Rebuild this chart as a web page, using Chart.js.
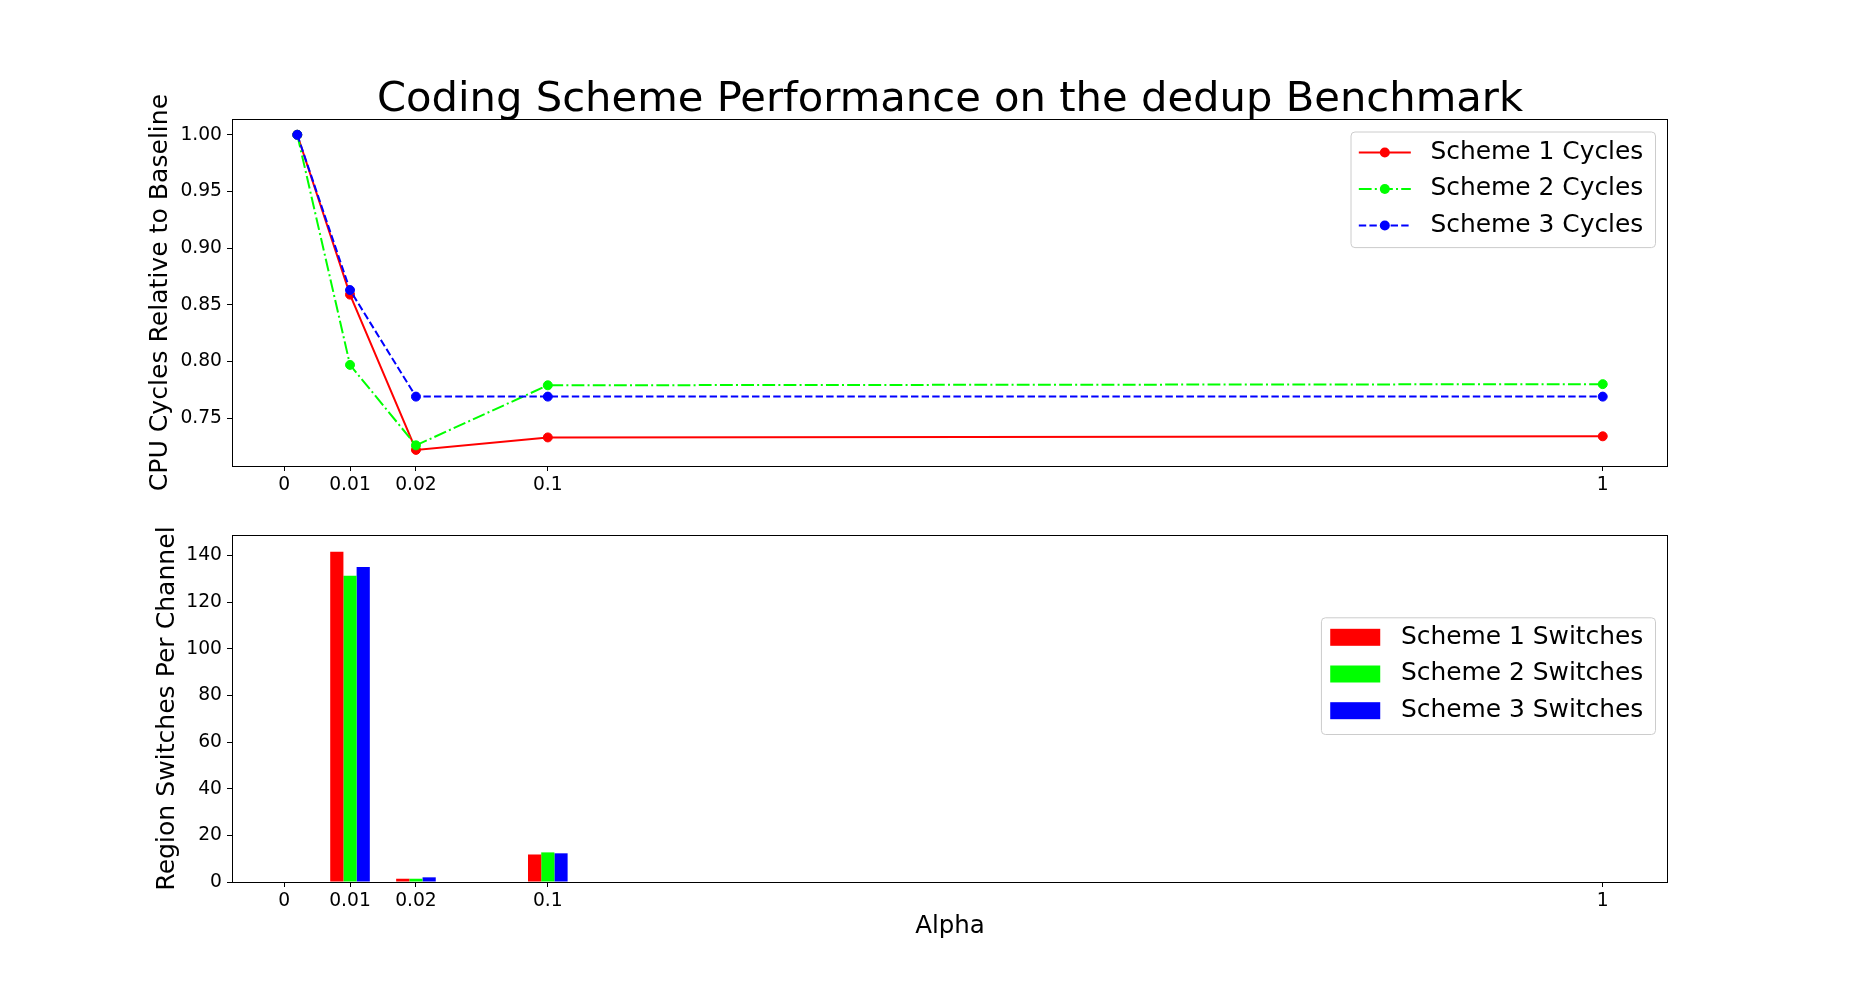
<!DOCTYPE html>
<html lang="en">
<head>
    <meta charset="UTF-8">
    <title>Coding Scheme Performance on the dedup Benchmark</title>
    <script src="https://cdn.jsdelivr.net/npm/chart.js"></script>
    <style>
        body { margin: 0; background: #fff; }
        .figure { position: relative; width: 1853px; height: 991px; }
        .figure canvas { position: absolute; left: 0; }
        #cyclesChart { top: 0; }
        #switchesChart { top: 500px; }
    </style>
</head>
<body>
<div class="figure">
    <canvas id="cyclesChart" width="1853" height="500"></canvas>
    <canvas id="switchesChart" width="1853" height="491"></canvas>
</div>
<script>
// alpha values are spread on an ordinal-ish axis: tick positions vs. where the points sit
const alphaLabels = ['0', '0.01', '0.02', '0.1', '1'];
const tickPos = [0, 1, 2, 4, 20];
const pointPos = [0.2, 1, 2, 4, 20];

// CPU cycles relative to baseline
const scheme1Cycles = [1.000, 0.859, 0.722, 0.733, 0.734];
const scheme2Cycles = [1.000, 0.797, 0.726, 0.779, 0.780];
const scheme3Cycles = [1.000, 0.863, 0.769, 0.769, 0.769];

// region switches per channel
const scheme1Switches = [0, 141.6, 1.4, 11.8, 0];
const scheme2Switches = [0, 131.3, 1.4, 12.7, 0];
const scheme3Switches = [0, 135.1, 2.0, 12.3, 0];

const cyclesTicks = [0.75, 0.80, 0.85, 0.90, 0.95, 1.00];
const switchesTicks = [0, 20, 40, 60, 80, 100, 120, 140];

Chart.defaults.font.family = '"DejaVu Sans", sans-serif';
Chart.defaults.color = '#000';

const FONT = '"DejaVu Sans", sans-serif';

// box around the plot area, like matplotlib spines
const frame = {
    id: 'frame',
    afterDraw(chart) {
        const { ctx, chartArea: a } = chart;
        ctx.save();
        ctx.strokeStyle = '#000';
        ctx.lineWidth = 1;
        ctx.strokeRect(Math.round(a.left) + 0.5, Math.round(a.top) + 0.5,
            Math.round(a.right - a.left) - 1, Math.round(a.bottom - a.top));
        ctx.restore();
    }
};

// title centered over the plot area
const figTitle = {
    id: 'figTitle',
    afterDraw(chart, args, opts) {
        if (!opts.text) return;
        const { ctx, chartArea: a } = chart;
        ctx.save();
        ctx.font = opts.size + 'px ' + FONT;
        ctx.fillStyle = '#000';
        ctx.textAlign = 'center';
        ctx.textBaseline = 'alphabetic';
        ctx.fillText(opts.text, (a.left + a.right) / 2, a.top - opts.gap);
        ctx.restore();
    }
};

// legend box inside the plot area, top right
const boxLegend = {
    id: 'boxLegend',
    afterDraw(chart, args, o) {
        const { ctx, chartArea: a } = chart;
        const items = chart.data.datasets;
        ctx.save();
        ctx.font = o.size + 'px ' + FONT;
        const textW = Math.max(...items.map(d => ctx.measureText(d.label).width));
        const w = o.padLeft + o.handle + o.gap + textW + o.padRight;
        const h = o.padTop + (items.length - 1) * o.rowH + o.padBottom;
        const right = a.right - o.inset;
        const left = right - w;
        const top = a.top + o.top;

        ctx.beginPath();
        ctx.roundRect(left + 0.5, top + 0.5, w, h, 4);
        ctx.fillStyle = 'rgba(255,255,255,0.8)';
        ctx.fill();
        ctx.strokeStyle = '#cccccc';
        ctx.lineWidth = 1;
        ctx.stroke();

        items.forEach((d, i) => {
            const y = top + o.padTop + i * o.rowH;
            const x0 = left + o.padLeft;
            if (o.kind === 'line') {
                ctx.strokeStyle = d.borderColor;
                ctx.lineWidth = d.borderWidth;
                ctx.setLineDash(d.borderDash || []);
                ctx.beginPath();
                ctx.moveTo(x0, y);
                ctx.lineTo(x0 + o.handle, y);
                ctx.stroke();
                ctx.setLineDash([]);
                ctx.beginPath();
                ctx.arc(x0 + o.handle / 2, y, d.pointRadius + 0.5, 0, Math.PI * 2);
                ctx.fillStyle = d.pointBackgroundColor;
                ctx.fill();
            } else {
                ctx.fillStyle = d.backgroundColor;
                ctx.fillRect(x0, y - o.swatchH / 2, o.handle, o.swatchH);
            }
            ctx.fillStyle = '#000';
            ctx.textAlign = 'left';
            ctx.textBaseline = 'middle';
            ctx.fillText(d.label, x0 + o.handle + o.gap, y);
        });
        ctx.restore();
    }
};

function xAxis(height, title) {
    return {
        type: 'linear',
        min: -0.79,
        max: 20.99,
        offset: false,
        afterBuildTicks: s => { s.ticks = tickPos.map(v => ({ value: v })); },
        afterFit: s => { s.height = height; },
        ticks: {
            autoSkip: false,
            maxRotation: 0,
            padding: 3,
            font: { size: 18.7 },
            callback: (v, i) => alphaLabels[i]
        },
        grid: { drawOnChartArea: false, offset: false, tickLength: 5, color: '#000' },
        border: { display: false },
        title: title ? {
            display: true,
            text: title,
            font: { size: 24.5 },
            padding: { top: 0, bottom: 50 }
        } : { display: false }
    };
}

function yAxis(min, max, tickList, digits, title, titlePad) {
    return {
        min: min,
        max: max,
        afterBuildTicks: s => { s.ticks = tickList.map(v => ({ value: v })); },
        afterFit: s => { s.width = 232; },
        ticks: {
            padding: 5,
            font: { size: 18.7 },
            callback: v => v.toFixed(digits)
        },
        grid: { drawOnChartArea: false, tickLength: 5, color: '#000' },
        border: { display: false },
        title: {
            display: true,
            text: title,
            font: { size: 25.1 },
            padding: { top: titlePad, bottom: 0 }
        }
    };
}

function points(ys) {
    return pointPos.map((x, i) => ({ x: x, y: ys[i] }));
}

function lineSet(label, color, ys, dash, order) {
    return {
        label: label,
        data: points(ys),
        borderColor: color,
        backgroundColor: color,
        pointBackgroundColor: color,
        pointBorderColor: color,
        borderWidth: 2,
        borderDash: dash,
        pointRadius: 4.5,
        pointBorderWidth: 1,
        tension: 0,
        order: order
    };
}

function barSet(label, color, ys) {
    return {
        label: label,
        data: points(ys),
        backgroundColor: color,
        borderWidth: 0,
        inflateAmount: 0,
        barThickness: 13.2
    };
}

new Chart(document.getElementById('cyclesChart'), {
    type: 'line',
    data: {
        datasets: [
            lineSet('Scheme 1 Cycles', '#ff0000', scheme1Cycles, [], 3),
            lineSet('Scheme 2 Cycles', '#00ff00', scheme2Cycles, [12.8, 3.2, 2, 3.2], 2),
            lineSet('Scheme 3 Cycles', '#0000ff', scheme3Cycles, [7.4, 3.2], 1)
        ]
    },
    options: {
        responsive: false,
        animation: false,
        layout: { padding: { top: 119, right: 185, left: 0, bottom: 0 } },
        scales: {
            x: xAxis(34, null),
            y: yAxis(0.7078, 1.0139, cyclesTicks, 2, 'CPU Cycles Relative to Baseline', 145.5)
        },
        plugins: {
            legend: { display: false },
            tooltip: { enabled: false },
            figTitle: { text: 'Coding Scheme Performance on the dedup Benchmark', size: 41.7, gap: 8 },
            boxLegend: {
                kind: 'line', size: 24.9, inset: 13, top: 12.5,
                padLeft: 8.3, handle: 52, gap: 19.7, padRight: 11.7,
                padTop: 21, rowH: 36.5, padBottom: 21.6
            }
        }
    },
    plugins: [frame, figTitle, boxLegend]
});

new Chart(document.getElementById('switchesChart'), {
    type: 'bar',
    data: {
        datasets: [
            barSet('Scheme 1 Switches', '#ff0000', scheme1Switches),
            barSet('Scheme 2 Switches', '#00ff00', scheme2Switches),
            barSet('Scheme 3 Switches', '#0000ff', scheme3Switches)
        ]
    },
    options: {
        responsive: false,
        animation: false,
        layout: { padding: { top: 35, right: 185, left: 0, bottom: 0 } },
        scales: {
            x: xAxis(109, 'Alpha'),
            y: yAxis(0, 148.8, switchesTicks, 0, 'Region Switches Per Channel', 152)
        },
        plugins: {
            legend: { display: false },
            tooltip: { enabled: false },
            boxLegend: {
                kind: 'bar', size: 24.9, inset: 13, top: 82.3,
                padLeft: 9.3, handle: 50, gap: 20.7, padRight: 11.7,
                padTop: 20, rowH: 36.7, padBottom: 23.3, swatchH: 17
            }
        }
    },
    plugins: [frame, boxLegend]
});
</script>
</body>
</html>
